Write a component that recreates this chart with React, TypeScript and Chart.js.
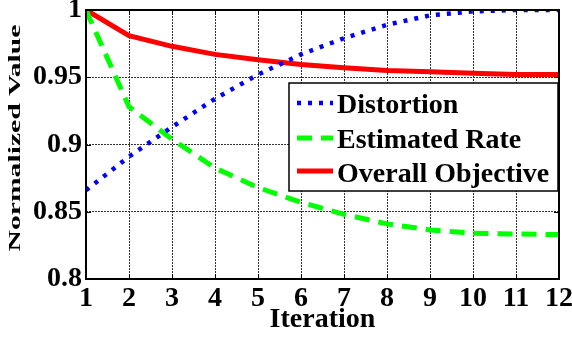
import React, { useEffect, useRef } from "react";
import { Chart, registerables } from "chart.js";

Chart.register(...registerables);

const iterations = [1, 2, 3, 4, 5, 6, 7, 8, 9, 10, 11, 12];
const distortion = [0.866, 0.891, 0.913, 0.934, 0.952, 0.967, 0.979, 0.989, 0.996, 0.999, 1.0, 1.0];
const estimatedRate = [1.0, 0.928, 0.904, 0.8825, 0.868, 0.857, 0.848, 0.841, 0.8365, 0.834, 0.8335, 0.833];
const overallObjective = [1.0, 0.981, 0.973, 0.967, 0.963, 0.9595, 0.957, 0.955, 0.954, 0.953, 0.952, 0.952];
const seriesLabels = ["Distortion", "Estimated Rate", "Overall Objective"];
const seriesColors = ["#0000ff", "#00ff00", "#ff0000"];
const xTitle = "Iteration";
const yTitle = "Normalized Value";

const FONT = '"Liberation Serif", "Times New Roman", serif';

export default function App() {
  const ref = useRef<HTMLCanvasElement>(null);

  useEffect(() => {
    const canvas = ref.current!;
    const toPts = (ys: number[]) => iterations.map((x, i) => ({ x, y: ys[i] }));

    const framePlugin = {
      id: "frame",
      afterDraw(chart: any) {
        const { ctx, chartArea: a, scales } = chart;
        ctx.save();
        ctx.setLineDash([]);
        ctx.strokeStyle = "#000";
        ctx.lineWidth = 1;
        const tl = 5;
        const seg = (x1: number, y1: number, x2: number, y2: number) => {
          ctx.beginPath();
          ctx.moveTo(x1, y1);
          ctx.lineTo(x2, y2);
          ctx.stroke();
        };
        scales.x.ticks.forEach((t: any) => {
          const px = Math.round(scales.x.getPixelForValue(t.value)) + 0.5;
          seg(px, a.bottom, px, a.bottom - tl);
          seg(px, a.top, px, a.top + tl);
        });
        scales.y.ticks.forEach((t: any) => {
          const py = Math.round(scales.y.getPixelForValue(t.value)) + 0.5;
          seg(a.left, py, a.left + tl, py);
          seg(a.right, py, a.right - tl, py);
        });
        ctx.lineWidth = 2;
        ctx.strokeRect(a.left, a.top, a.right - a.left, a.bottom - a.top);

        // legend
        const lx = a.right - 270;
        const ly = a.top + 73;
        const lw = 269;
        const lh = 108;
        ctx.fillStyle = "#fff";
        ctx.fillRect(lx, ly, lw, lh);
        ctx.lineWidth = 1.5;
        ctx.strokeRect(lx, ly, lw, lh);
        const dsets = chart.data.datasets;
        const lineY = [20, 55, 88];
        const baseY = [30, 65, 99];
        dsets.forEach((ds: any, i: number) => {
          ctx.save();
          ctx.strokeStyle = ds.borderColor;
          ctx.lineWidth = ds.borderWidth;
          ctx.lineCap = "butt";
          ctx.setLineDash(ds.borderDash || []);
          seg(lx + 8, ly + lineY[i], lx + 44, ly + lineY[i]);
          ctx.restore();
          ctx.fillStyle = "#000";
          ctx.font = `bold 28px ${FONT}`;
          ctx.textBaseline = "alphabetic";
          ctx.textAlign = "left";
          ctx.fillText(ds.label, lx + 48, ly + baseY[i]);
        });

        // y title (compressed, rotated)
        ctx.save();
        ctx.translate(16, 138);
        ctx.rotate(-Math.PI / 2);
        ctx.font = `bold 28px ${FONT}`;
        const w = ctx.measureText(yTitle).width;
        ctx.scale(227 / w, 0.62);
        ctx.fillStyle = "#000";
        ctx.textAlign = "center";
        ctx.textBaseline = "middle";
        ctx.fillText(yTitle, 0, 0);
        ctx.restore();

        ctx.restore();
      },
    };

    const chart = new Chart(canvas, {
      type: "line",
      data: {
        datasets: [
          {
            label: seriesLabels[0],
            data: toPts(distortion),
            borderColor: seriesColors[0],
            borderWidth: 4.5,
            borderDash: [4, 7],
            borderCapStyle: "butt",
            pointRadius: 0,
            tension: 0,
            fill: false,
          },
          {
            label: seriesLabels[1],
            data: toPts(estimatedRate),
            borderColor: seriesColors[1],
            borderWidth: 5,
            borderDash: [15, 9],
            borderCapStyle: "butt",
            pointRadius: 0,
            tension: 0,
            fill: false,
          },
          {
            label: seriesLabels[2],
            data: toPts(overallObjective),
            borderColor: seriesColors[2],
            borderWidth: 5,
            pointRadius: 0,
            tension: 0,
            fill: false,
          },
        ],
      },
      options: {
        responsive: false,
        animation: false,
        layout: { padding: { top: 10, right: 13, left: 0, bottom: 0 } },
        plugins: { legend: { display: false }, tooltip: { enabled: false } },
        scales: {
          x: {
            type: "linear",
            min: 1,
            max: 12,
            afterFit: (s: any) => {
              s.height = 59;
              s.paddingLeft = 0;
              s.paddingRight = 0;
            },
            ticks: {
              stepSize: 1,
              autoSkip: false,
              maxRotation: 0,
              padding: 3,
              color: "#000",
              font: { family: FONT, size: 28, weight: "bold", lineHeight: 1.2 },
            },
            grid: { color: "#333", lineWidth: 1, drawTicks: false },
            border: { display: false, dash: [2, 1] },
            title: {
              display: true,
              text: xTitle,
              color: "#000",
              padding: { top: 0, bottom: 1 },
              font: { family: FONT, size: 28, weight: "bold", lineHeight: 1.2 },
            },
          },
          y: {
            type: "linear",
            min: 0.8,
            max: 1,
            afterFit: (s: any) => {
              s.width = 86;
              s.paddingTop = 0;
              s.paddingBottom = 0;
            },
            ticks: {
              stepSize: 0.05,
              autoSkip: false,
              padding: 4,
              color: "#000",
              font: { family: FONT, size: 28, weight: "bold", lineHeight: 1.2 },
              callback: (v: any) => String(Number(Number(v).toFixed(2))),
            },
            grid: { color: "#333", lineWidth: 1, drawTicks: false },
            border: { display: false, dash: [2, 1] },
          },
        },
      },
      plugins: [framePlugin],
    } as any);

    return () => chart.destroy();
  }, []);

  return (
    <div style={{ position: "fixed", left: 0, top: 0, width: 572, height: 338, background: "#fff" }}>
      <canvas ref={ref} width={572} height={338} style={{ display: "block", width: 572, height: 338 }} />
    </div>
  );
}
